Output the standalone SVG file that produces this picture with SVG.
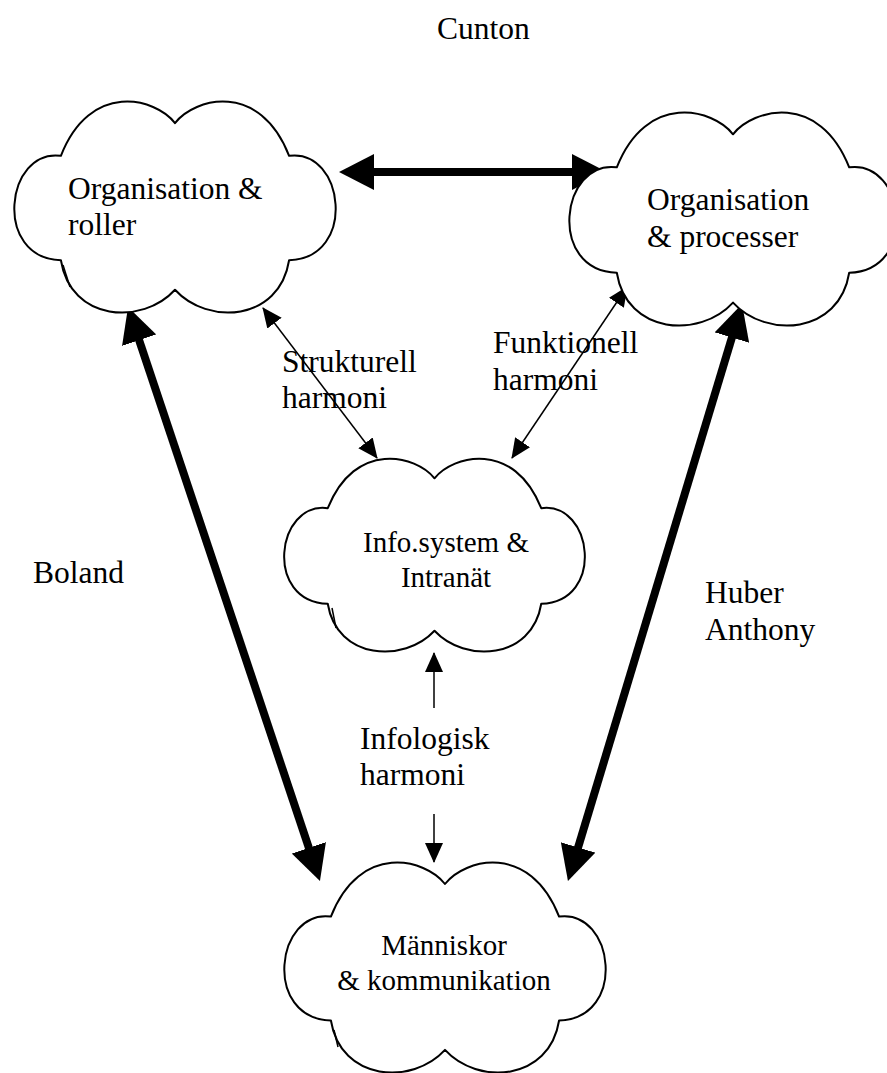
<svg xmlns="http://www.w3.org/2000/svg" width="887" height="1073" viewBox="0 0 887 1073">
<style>
.cloud{fill:#fff;stroke:#000;stroke-width:2;vector-effect:non-scaling-stroke;stroke-linejoin:round}
.tick{fill:none;stroke:#000;stroke-width:1.5}
text{font-family:"Liberation Serif","Times New Roman",serif;fill:#000}
.big{font-size:31.5px}
.small{font-size:29px}
.thick{stroke:#000;stroke-width:8;fill:none}
.thin{stroke:#000;stroke-width:1.5;fill:none}
</style>
<defs>
<path id="cloudShape" class="cloud" d="M50,10 C44,-2 24,-10 15,25.5 C-2,22 -6,74 15,75 C18,104 40,106 50,89 C60,106 82,104 85,75 C106,74 102,22 85,25.5 C76,-10 56,-2 50,10 Z"/>
<marker id="ahThick" markerUnits="userSpaceOnUse" markerWidth="35" markerHeight="36" viewBox="0 0 35 36" refX="20" refY="18" orient="auto-start-reverse"><path d="M0,0 L35,18 L0,36 Z" fill="#000"/></marker>
<marker id="ahThin" markerUnits="userSpaceOnUse" markerWidth="20" markerHeight="18" viewBox="0 0 20 18" refX="19" refY="9" orient="auto-start-reverse"><path d="M0,0 L20,9 L0,18 Z" fill="#000"/></marker>
</defs>
<rect width="887" height="1073" fill="#fff"/>

<g id="connectors">
<line class="thick" x1="354" y1="172" x2="592" y2="172" marker-start="url(#ahThick)" marker-end="url(#ahThick)"/>
<line class="thick" x1="132.8" y1="321.2" x2="315.2" y2="866.8" marker-start="url(#ahThick)" marker-end="url(#ahThick)"/>
<line class="thick" x1="737.7" y1="318.4" x2="572.3" y2="866.6" marker-start="url(#ahThick)" marker-end="url(#ahThick)"/>
<line class="thin" x1="263" y1="308" x2="377" y2="458" marker-start="url(#ahThin)" marker-end="url(#ahThin)"/>
<line class="thin" x1="627" y1="287" x2="512" y2="458" marker-start="url(#ahThin)" marker-end="url(#ahThin)"/>
<line class="thin" x1="434" y1="708" x2="434" y2="653" marker-end="url(#ahThin)"/>
<line class="thin" x1="434" y1="814" x2="434" y2="862" marker-end="url(#ahThin)"/>
</g>

<g id="node-organisation-roller">
<use href="#cloudShape" transform="translate(12,102) scale(3.26,2.11)"/>
<path class="tick" d="M63,265 L70,287"/>
<text class="big" x="68" y="199">Organisation &amp;</text>
<text class="big" x="68" y="235">roller</text>
</g>

<g id="node-organisation-processer">
<use href="#cloudShape" transform="translate(567,113) scale(3.32,2.13)"/>
<text class="big" x="647" y="210">Organisation</text>
<text class="big" x="647" y="247">&amp; processer</text>
</g>

<g id="node-infosystem">
<use href="#cloudShape" transform="translate(282,459) scale(3.05,1.93)"/>
<path class="tick" d="M332,608 L336,628"/>
<text class="small" x="446" y="552" text-anchor="middle">Info.system &amp;</text>
<text class="small" x="446" y="587" text-anchor="middle">Intranät</text>
</g>

<g id="node-manniskor">
<use href="#cloudShape" transform="translate(282,863) scale(3.26,2.10)"/>
<path class="tick" d="M334,1030 L338,1047"/>
<text class="small" x="444" y="955" text-anchor="middle">Människor</text>
<text class="small" x="444" y="990" text-anchor="middle">&amp; kommunikation</text>
</g>

<g id="labels">
<text class="big" x="437" y="39">Cunton</text>
<text class="big" x="33" y="583">Boland</text>
<text class="big" x="705" y="603">Huber</text>
<text class="big" x="705" y="640">Anthony</text>
<text class="big" x="282" y="372">Strukturell</text>
<text class="big" x="282" y="408">harmoni</text>
<text class="big" x="493" y="353">Funktionell</text>
<text class="big" x="493" y="390">harmoni</text>
<text class="big" x="360" y="749">Infologisk</text>
<text class="big" x="360" y="785">harmoni</text>
</g>
</svg>
